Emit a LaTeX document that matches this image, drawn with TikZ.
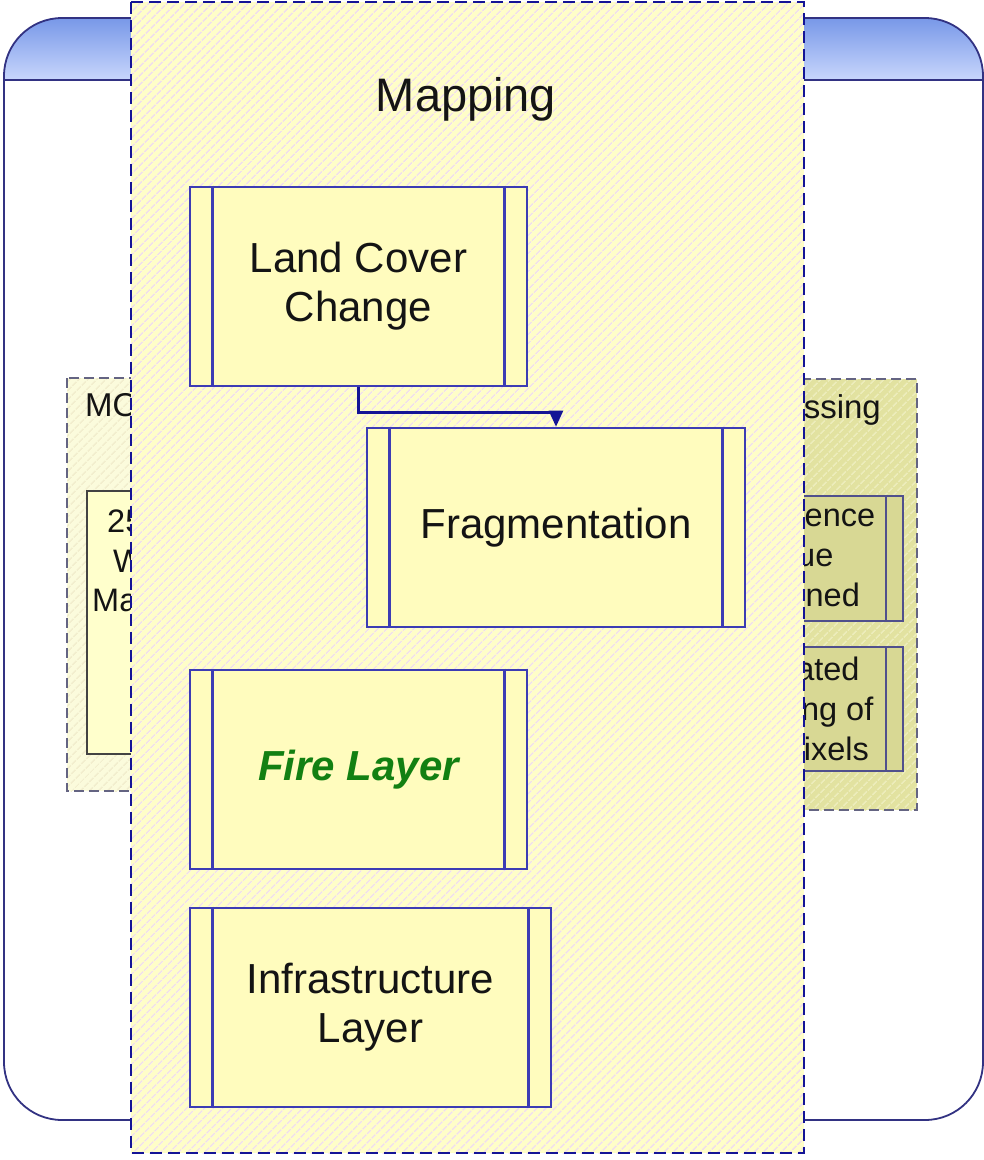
\documentclass[tikz,border=0pt]{standalone}
\usepackage{fontspec}
\setmainfont{Liberation Sans}
\usetikzlibrary{arrows.meta,patterns.meta}

% palette
\definecolor{hdrtop}{RGB}{120,152,232}
\definecolor{hdrbot}{RGB}{200,214,252}
\definecolor{frameline}{RGB}{50,50,130}
\definecolor{panelfill}{RGB}{255,254,200}
\definecolor{panelhatch}{RGB}{240,222,236}
\definecolor{panelline}{RGB}{20,20,150}
\definecolor{boxfill}{RGB}{255,252,190}
\definecolor{boxline}{RGB}{60,60,180}
\definecolor{lgfill}{RGB}{251,251,220}
\definecolor{lghatch}{RGB}{242,238,206}
\definecolor{lgline}{RGB}{100,100,130}
\definecolor{lboxfill}{RGB}{255,255,204}
\definecolor{rgfill}{RGB}{226,226,160}
\definecolor{rghatch}{RGB}{236,236,186}
\definecolor{rboxfill}{RGB}{216,216,148}
\definecolor{rboxline}{RGB}{80,80,140}
\definecolor{firegreen}{RGB}{18,128,18}
\definecolor{txt}{RGB}{20,20,20}

\tikzset{
  hatched/.style 2 args={fill=#1,
    postaction={pattern={Lines[angle=45,distance=6.5pt,line width=1.8pt]},pattern color=#2}},
  framel/.style={draw=frameline,line width=1.8pt},
  grpborder/.style={draw=lgline,line width=1.8pt,dash pattern=on 10pt off 5pt},
  panelborder/.style={draw=panelline,line width=2.5pt,dash pattern=on 12pt off 6pt},
  procbox/.style={draw=boxline,fill=boxfill,line width=2.6pt,align=center,
    text=txt,font=\fontsize{42}{49}\selectfont,inner sep=0pt},
  rbox/.style={draw=rboxline,fill=rboxfill,line width=2.2pt,align=center,
    text=txt,font=\fontsize{32.5}{40}\selectfont,inner sep=0pt},
  rbar/.style={draw=rboxline,line width=2.2pt},
  lbox/.style={draw=txt!80,fill=lboxfill,line width=1.9pt},
  ltext/.style={text=txt,font=\fontsize{32.5}{40}\selectfont,anchor=base west,inner sep=0pt},
  grptitle/.style={text=txt,font=\fontsize{33}{40}\selectfont,inner sep=0pt},
  bar/.style={draw=boxline,line width=2.6pt},
  conn/.style={draw=panelline,line width=2.4pt,-{Triangle[width=14pt,length=16pt]}}
}

\begin{document}
\begin{tikzpicture}[x=1pt,y=-1pt]
\useasboundingbox (0,0) rectangle (984,1160);

% outer frame with shaded header band
\fill[white,rounded corners=58pt] (4,18) rectangle (983,1120);
\begin{scope}
  \clip[rounded corners=58pt] (4,18) rectangle (983,1120);
  \shade[top color=hdrtop,bottom color=hdrbot] (4,18) rectangle (983,80);
\end{scope}
\draw[framel] (4,80) -- (983,80);
\draw[framel,rounded corners=58pt] (4,18) rectangle (983,1120);

% left group
\path[hatched={lgfill}{lghatch}] (67,378) rectangle (320,791);
\draw[grpborder] (67,378) rectangle (320,791);
\node[grptitle,anchor=base west] (lgtitle) at (85,416) {MODIS};
\draw[lbox] (87,491) rectangle (290,754);
\node[ltext] (l1) at (107,532) {250m};
\node[ltext] (l2) at (113,572) {Weekly};
\node[ltext] (l3) at (92,611) {Maps};

% right group
\path[hatched={rgfill}{rghatch}] (640,379) rectangle (917,810);
\draw[grpborder] (640,379) rectangle (917,810);
\node[grptitle,anchor=base east] (rgtitle) at (881,418) {Processing};
\node[rbox,minimum width=220pt,minimum height=125pt] (conf) at (793,558.5)
  {Confidence\\Value\\Assigned};
\draw[rbar] ([xshift=-18pt]conf.north east) -- ([xshift=-18pt]conf.south east);
\draw[rbar] ([xshift=18pt]conf.north west) -- ([xshift=18pt]conf.south west);
\node[rbox,minimum width=220pt,minimum height=124pt] (auto) at (793,709)
  {Validated\\Flagging of\\Fire Pixels};
\draw[rbar] ([xshift=-18pt]auto.north east) -- ([xshift=-18pt]auto.south east);
\draw[rbar] ([xshift=18pt]auto.north west) -- ([xshift=18pt]auto.south west);

% mapping panel
\path[hatched={panelfill}{panelhatch}] (131,2) rectangle (804,1153);
\draw[panelborder] (131,2) rectangle (804,1153);
\node[text=txt,font=\fontsize{47}{56}\selectfont,anchor=base,inner sep=0pt] (maptitle) at (466,111) {Mapping};

% predefined-process boxes
\node[procbox,minimum width=337pt,minimum height=199pt] (lcc) at (358.5,286.5) {Land Cover\\Change};
\node[procbox,minimum width=378pt,minimum height=199pt] (frag) at (556,527.5) {Fragmentation};
\node[procbox,minimum width=337pt,minimum height=199pt,text=firegreen,
      font=\fontsize{42}{49}\selectfont\bfseries\itshape] (fire) at (358.5,769.5) {Fire Layer};
\node[procbox,minimum width=361pt,minimum height=199pt] (infra) at (370.5,1007.5) {Infrastructure\\Layer};

\foreach \b in {lcc,frag,fire,infra}{
  \draw[bar] ([xshift=24pt]\b.north west) -- ([xshift=24pt]\b.south west);
  \draw[bar] ([xshift=-24pt]\b.north east) -- ([xshift=-24pt]\b.south east);
}

% flow from land cover change to fragmentation
\draw[conn] (lcc.south) -- ++(0,25) -| (frag.north);
\end{tikzpicture}
\end{document}
